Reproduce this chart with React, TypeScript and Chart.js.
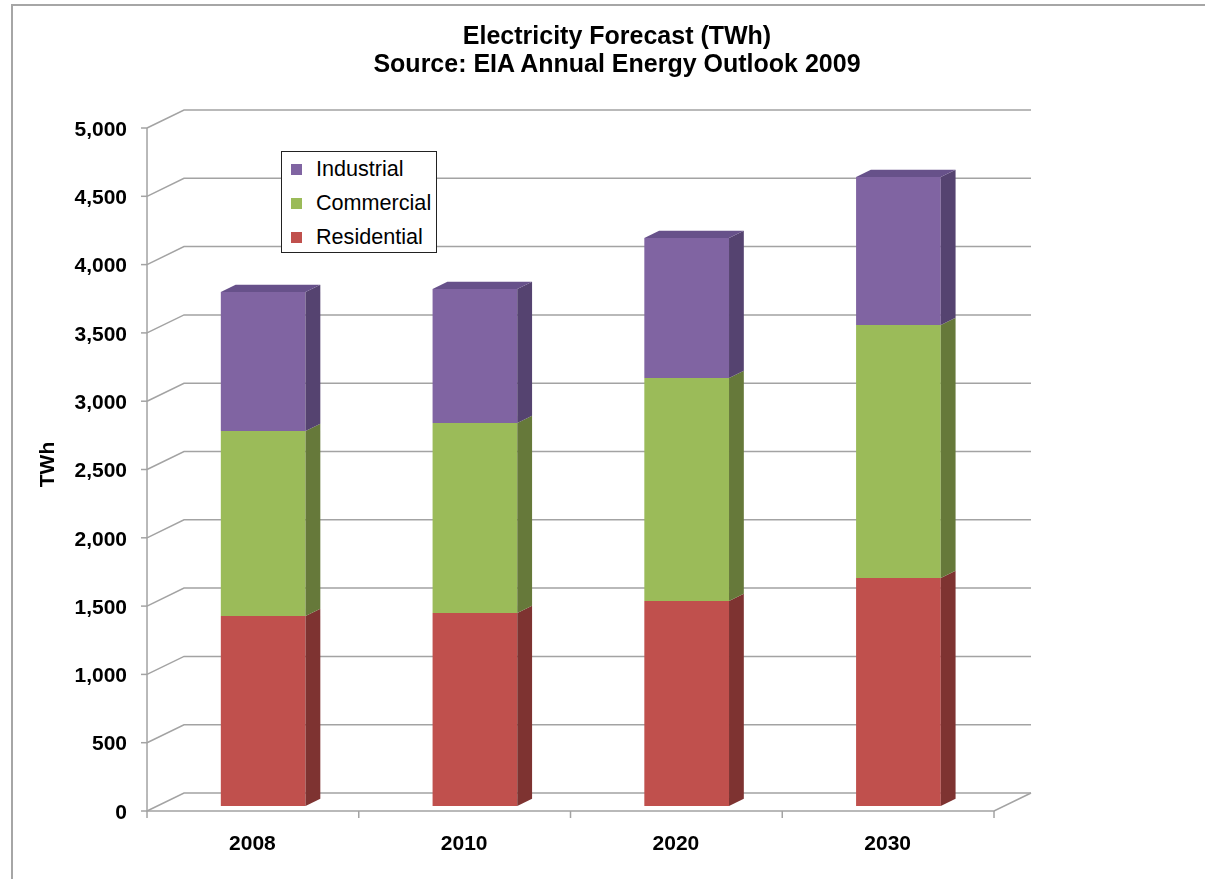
import React, { useEffect, useRef } from "react";
import { Chart, registerables } from "chart.js";

Chart.register(...registerables);

// ---- data ----
const years = ["2008", "2010", "2020", "2030"];
const residential = [1391, 1413, 1501, 1669];
const commercial = [1354, 1391, 1632, 1852];
const industrial = [1018, 981, 1025, 1084];
const yMax = 5000;
const yStep = 500;

const seriesNames = ["Residential", "Commercial", "Industrial"];
const frontColors = ["#C0504D", "#9BBB59", "#8064A2"];
const sideColors = ["#7E3331", "#66793A", "#554370"];
const topColor = "#67518A";

// ---- 3D geometry ----
const DEPTH_X = 37;
const DEPTH_Y = 18;
const FRONT_F = 0.278;
const SIDE_F = 0.4;
const GRID = "#a3a3a3";
const FONT = "'Liberation Sans', Arial, sans-serif";

const threeD = {
  id: "threeD",
  beforeDatasetsDraw(chart: any) {
    const { ctx, chartArea, scales } = chart;
    const x = scales.x;
    const y = scales.y;
    const offX = DEPTH_X * FRONT_F;
    const offY = DEPTH_Y * FRONT_F;
    const fx0 = chartArea.left - offX;
    const fx1 = chartArea.right - offX;
    ctx.save();
    ctx.strokeStyle = GRID;
    ctx.lineWidth = 1.5;
    y.ticks.forEach((t: any) => {
      const yf = y.getPixelForValue(t.value) + offY;
      const yb = yf - DEPTH_Y;
      ctx.beginPath();
      ctx.moveTo(fx0, yf);
      ctx.lineTo(fx0 + DEPTH_X, yb);
      ctx.lineTo(fx1 + DEPTH_X, yb);
      ctx.stroke();
      ctx.beginPath();
      ctx.moveTo(fx0 - 6, yf);
      ctx.lineTo(fx0, yf);
      ctx.stroke();
    });
    const yTopF = y.getPixelForValue(y.max) + offY;
    const y0F = y.getPixelForValue(0) + offY;
    ctx.beginPath();
    ctx.moveTo(fx0, yTopF);
    ctx.lineTo(fx0, y0F);
    ctx.lineTo(fx1, y0F);
    ctx.lineTo(fx1 + DEPTH_X, y0F - DEPTH_Y);
    ctx.stroke();
    const n = years.length;
    const w = (chartArea.right - chartArea.left) / n;
    for (let i = 0; i <= n; i++) {
      const px = x.getPixelForValue(0) - w / 2 + i * w - offX;
      ctx.beginPath();
      ctx.moveTo(px, y0F);
      ctx.lineTo(px, y0F + 7);
      ctx.stroke();
    }
    ctx.restore();
  },
  afterDatasetsDraw(chart: any) {
    const { ctx } = chart;
    const sdx = DEPTH_X * SIDE_F;
    const sdy = DEPTH_Y * SIDE_F;
    const metas = chart.getSortedVisibleDatasetMetas();
    ctx.save();
    metas.forEach((meta: any, di: number) => {
      meta.data.forEach((el: any) => {
        const { x, y, base, width } = el.getProps(["x", "y", "base", "width"], true);
        const left = x - width / 2;
        const right = x + width / 2;
        ctx.fillStyle = sideColors[di];
        ctx.beginPath();
        ctx.moveTo(right, y);
        ctx.lineTo(right + sdx, y - sdy);
        ctx.lineTo(right + sdx, base - sdy);
        ctx.lineTo(right, base);
        ctx.closePath();
        ctx.fill();
        if (di === metas.length - 1) {
          ctx.fillStyle = topColor;
          ctx.beginPath();
          ctx.moveTo(left, y);
          ctx.lineTo(left + sdx, y - sdy);
          ctx.lineTo(right + sdx, y - sdy);
          ctx.lineTo(right, y);
          ctx.closePath();
          ctx.fill();
        }
      });
    });
    ctx.restore();
  },
};

export default function App() {
  const canvasRef = useRef<HTMLCanvasElement | null>(null);

  useEffect(() => {
    if (!canvasRef.current) return;
    const datasets = [residential, commercial, industrial].map((d, i) => ({
      label: seriesNames[i],
      data: d,
      backgroundColor: frontColors[i],
      borderWidth: 0,
      categoryPercentage: 1,
      barPercentage: 0.4,
    }));
    const chart = new Chart(canvasRef.current, {
      type: "bar",
      data: { labels: years, datasets },
      plugins: [threeD],
      options: {
        responsive: false,
        animation: false,
        layout: { padding: { left: 0, top: 123, right: 200.7, bottom: 0 } },
        plugins: {
          legend: { display: false },
          title: { display: false },
          tooltip: { enabled: false },
        },
        scales: {
          x: {
            stacked: true,
            grid: { display: false, drawTicks: false },
            border: { display: false },
            ticks: {
              color: "#000",
              font: { family: FONT, size: 21, weight: "bold" },
              padding: 25.5,
              labelOffset: -10.8,
              maxRotation: 0,
            },
            afterFit: (s: any) => {
              s.height = 73;
            },
          },
          y: {
            stacked: true,
            min: 0,
            max: yMax,
            grid: { display: false, drawTicks: false },
            border: { display: false },
            ticks: {
              stepSize: yStep,
              color: "#000",
              font: { family: FONT, size: 21, weight: "bold" },
              padding: 30.3,
              labelOffset: 7,
              callback: (v: any) => Number(v).toLocaleString("en-US"),
            },
            title: {
              display: true,
              text: "TWh",
              color: "#000",
              font: { family: FONT, size: 21, weight: "bold" },
              padding: { top: 35.4, bottom: 0 },
            },
            afterFit: (s: any) => {
              s.width = 157.3;
            },
          },
        },
      },
    });
    return () => chart.destroy();
  }, []);

  const legendItems = [2, 1, 0];

  return (
    <div
      style={{
        position: "fixed",
        left: 0,
        top: 0,
        width: 1205,
        height: 879,
        overflow: "hidden",
        background: "#fff",
        fontFamily: FONT,
      }}
    >
      <div
        style={{
          position: "absolute",
          left: 11,
          top: 4,
          width: 1400,
          height: 1100,
          border: "2px solid #a6a6a6",
        }}
      />
      <canvas
        ref={canvasRef}
        width={1205}
        height={879}
        style={{ position: "absolute", left: 0, top: 0, width: 1205, height: 879 }}
      />
      <div
        style={{
          position: "absolute",
          left: 317,
          width: 600,
          top: 21,
          textAlign: "center",
          fontWeight: "bold",
          fontSize: 25,
          lineHeight: "28px",
          color: "#000",
          whiteSpace: "nowrap",
        }}
      >
        <div>Electricity Forecast (TWh)</div>
        <div>Source: EIA Annual Energy Outlook 2009</div>
      </div>
      <div
        style={{
          position: "absolute",
          left: 281,
          top: 151,
          width: 154,
          height: 100,
          border: "1.5px solid #222",
          background: "#fff",
        }}
      >
        {legendItems.map((i, k) => (
          <div
            key={seriesNames[i]}
            style={{
              position: "absolute",
              left: 9,
              top: 17 + k * 34 - 13,
              height: 26,
              display: "flex",
              alignItems: "center",
              whiteSpace: "nowrap",
            }}
          >
            <span
              style={{
                display: "inline-block",
                width: 11,
                height: 11,
                background: frontColors[i],
                marginRight: 14,
              }}
            />
            <span style={{ fontSize: 21.6, color: "#000" }}>{seriesNames[i]}</span>
          </div>
        ))}
      </div>
    </div>
  );
}
